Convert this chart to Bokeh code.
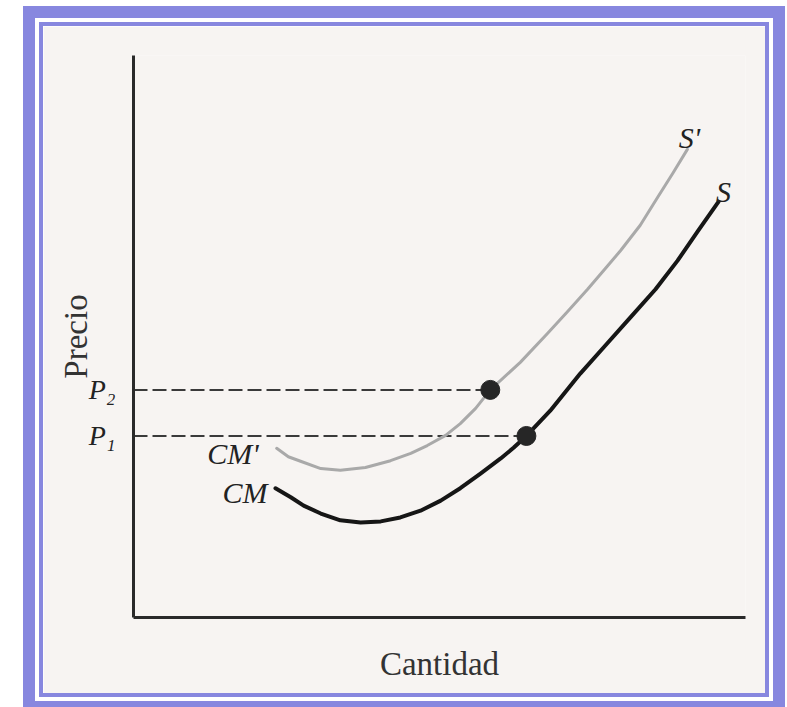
from bokeh.plotting import figure
from bokeh.models import FixedTicker
from bokeh.core.properties import value
from bokeh.embed import file_html
from bokeh.resources import INLINE

# Curve CM -> S (black) (Cantidad, Precio in 0..10 units)
cm_s_x = [2.32, 2.57, 2.78, 3.06, 3.38, 3.71, 4.04, 4.36, 4.69, 5.02, 5.34, 5.67,
          6.00, 6.21, 6.42, 6.81, 7.30, 7.71, 8.12, 8.53, 8.89, 9.23, 9.56]
cm_s_y = [2.30, 2.14, 1.99, 1.85, 1.73, 1.69, 1.71, 1.78, 1.90, 2.08, 2.30, 2.56,
          2.83, 3.02, 3.23, 3.68, 4.34, 4.84, 5.34, 5.84, 6.35, 6.89, 7.40]

# Curve CM' -> S' (grey)
cmp_sp_x = [2.34, 2.53, 2.73, 3.06, 3.38, 3.79, 4.20, 4.53, 4.80, 5.10, 5.34, 5.59,
            5.83, 6.32, 6.76, 7.09, 7.42, 7.71, 7.96, 8.28, 8.56, 8.81, 9.05]
cmp_sp_y = [3.01, 2.86, 2.78, 2.65, 2.62, 2.67, 2.79, 2.92, 3.06, 3.24, 3.45, 3.72,
            4.05, 4.54, 5.05, 5.44, 5.84, 6.21, 6.53, 6.98, 7.47, 7.90, 8.33]

# Prices and quantities of the marked points
price_levels = [3.23, 4.05]
price_labels = ["P\u2081", "P\u2082"]
point_qty = [6.42, 5.83]

FRAME = "#8787df"
BG = "#f7f4f2"
INK = "#222222"
SERIF = "Liberation Serif"

p = figure(width=722, height=667, x_range=(0, 10), y_range=(0, 10),
           output_backend="svg", toolbar_location=None,
           min_border_left=90, min_border_right=20, min_border_top=29, min_border_bottom=76,
           background_fill_color=BG, border_fill_color=BG)
p.styles = {"margin-left": "43px", "margin-top": "26px",
            "box-shadow": f"0 0 0 4px {FRAME}, 0 0 0 8px #ffffff, 0 0 0 20px {FRAME}"}
p.outline_line_color = None
p.grid.visible = False

# Axes
for ax in (p.xaxis, p.yaxis):
    ax.axis_line_width = 3
    ax.axis_line_color = "#2a2a2a"
    ax.major_tick_line_color = None
    ax.minor_tick_line_color = None
    ax.axis_label_text_font = SERIF
    ax.axis_label_text_font_style = "normal"
    ax.axis_label_text_font_size = "33px"
    ax.axis_label_text_color = "#333333"

p.xaxis.ticker = FixedTicker(ticks=[])
p.xaxis.axis_label = "Cantidad"
p.xaxis.axis_label_standoff = 28

p.yaxis.ticker = FixedTicker(ticks=price_levels)
p.yaxis.major_label_overrides = {price_levels[i]: price_labels[i] for i in range(len(price_levels))}
p.yaxis.major_label_text_font = SERIF
p.yaxis.major_label_text_font_style = "italic"
p.yaxis.major_label_text_font_size = "28px"
p.yaxis.major_label_text_color = INK
p.yaxis.major_label_standoff = 12
p.yaxis.axis_label = "Precio"
p.yaxis.axis_label_standoff = -8

# Dashed price lines
p.segment(x0=[0, 0], y0=price_levels, x1=point_qty, y1=price_levels,
          line_color="#3a3a3a", line_width=2, line_dash="14 5")

# Curves
p.line(cmp_sp_x, cmp_sp_y, line_color="#a9a9a9", line_width=3, line_join="round", line_cap="round")
p.line(cm_s_x, cm_s_y, line_color="#161616", line_width=4, line_join="round", line_cap="round")

# Points
p.scatter(point_qty, price_levels, size=19, color="#262626")

# Curve labels
p.text(x=[cmp_sp_x[0]], y=[cmp_sp_y[0]], text=["CM'"], text_align="right", text_baseline="middle",
       x_offset=-18, y_offset=5, text_font=value(SERIF), text_font_style="italic",
       text_font_size="30px", text_color=INK)
p.text(x=[cm_s_x[0]], y=[cm_s_y[0]], text=["CM"], text_align="right", text_baseline="middle",
       x_offset=-8, y_offset=4, text_font=value(SERIF), text_font_style="italic",
       text_font_size="30px", text_color=INK)
p.text(x=[cmp_sp_x[-1]], y=[cmp_sp_y[-1]], text=["S'"], text_align="center", text_baseline="alphabetic",
       x_offset=2, y_offset=-12, text_font=value(SERIF), text_font_style="italic",
       text_font_size="30px", text_color=INK)
p.text(x=[cm_s_x[-1]], y=[cm_s_y[-1]], text=["S"], text_align="center", text_baseline="alphabetic",
       x_offset=5, y_offset=-10, text_font=value(SERIF), text_font_style="italic",
       text_font_size="30px", text_color=INK)

open("out.html", "w").write(file_html(p, INLINE))
